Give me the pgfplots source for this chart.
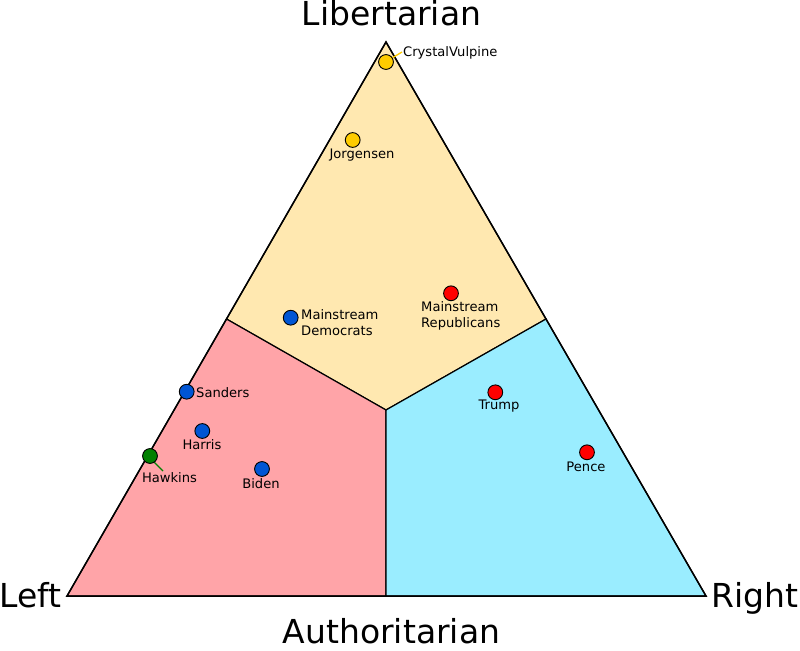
\documentclass[border=0pt]{standalone}
\usepackage{pgfplots}
\pgfplotsset{compat=1.18}
\usepackage{fontspec}
\setmainfont{DejaVu Sans}
\definecolor{libreg}{HTML}{FFE8B0}
\definecolor{leftreg}{HTML}{FFA4A8}
\definecolor{rightreg}{HTML}{9AEDFF}
\definecolor{dotyel}{HTML}{FFCC00}
\definecolor{dotblue}{HTML}{0055D4}
\definecolor{dotred}{HTML}{FF0000}
\definecolor{dotgreen}{HTML}{008000}
\tikzset{lbl/.style={font=\fontsize{13.1bp}{16bp}\selectfont, text=black, inner sep=0pt},
  ttl/.style={font=\fontsize{33bp}{38bp}\selectfont, text=black, inner sep=0pt}}
\begin{document}
\begin{tikzpicture}
\begin{axis}[
  width=800bp, height=651bp, scale only axis,
  xmin=0, xmax=800, ymin=0, ymax=651, y dir=reverse,
  hide axis, clip=false,
]
% regions
\addplot[fill=libreg, draw=black, line width=1.2bp] coordinates {(386,42) (226.5,319) (386,410) (546,319)} -- cycle;
\addplot[fill=leftreg, draw=black, line width=1.2bp] coordinates {(67,596) (226.5,319) (386,410) (386,596)} -- cycle;
\addplot[fill=rightreg, draw=black, line width=1.2bp] coordinates {(706,596) (546,319) (386,410) (386,596)} -- cycle;
\addplot[draw=black, line width=1.5bp] coordinates {(67,596) (386,42) (706,596)} -- cycle;
% leader lines
\addplot[draw=dotyel, line width=1.3bp] coordinates {(392,58) (402,52)};
\addplot[draw=dotgreen, line width=1.3bp] coordinates {(154,462) (163,471)};
% dots
\addplot[only marks, mark=*, mark size=7.4bp, fill=dotyel, draw=black, mark options={line width=0.9bp}] coordinates {(386,62) (352.7,140)};
\addplot[only marks, mark=*, mark size=7.4bp, fill=dotblue, draw=black, mark options={line width=0.9bp}] coordinates {(290.7,317.7) (186.7,391.7) (202.3,431) (262,469)};
\addplot[only marks, mark=*, mark size=7.4bp, fill=dotred, draw=black, mark options={line width=0.9bp}] coordinates {(451,293.3) (495.3,392.3) (587,452.3)};
\addplot[only marks, mark=*, mark size=7.4bp, fill=dotgreen, draw=black, mark options={line width=0.9bp}] coordinates {(150,456)};
% labels
\node[lbl, anchor=west] at (axis cs:403,53) {CrystalVulpine};
\node[lbl] at (axis cs:362,155) {Jorgensen};
\node[lbl, anchor=north west, align=left] at (axis cs:301,309.5) {Mainstream\\Democrats};
\node[lbl, anchor=north west, align=left] at (axis cs:421,301.5) {Mainstream\\Republicans};
\node[lbl, anchor=west] at (axis cs:196,393) {Sanders};
\node[lbl] at (axis cs:202,445) {Harris};
\node[lbl] at (axis cs:169.5,477.5) {Hawkins};
\node[lbl] at (axis cs:261,483.5) {Biden};
\node[lbl] at (axis cs:499,406) {Trump};
\node[lbl] at (axis cs:586,466.5) {Pence};
% titles
\node[ttl, anchor=base] at (axis cs:391.5,26) {Libertarian};
\node[ttl, anchor=base] at (axis cs:391.5,643) {Authoritarian};
\node[ttl, anchor=base west] at (axis cs:-1,607) {Left};
\node[ttl, anchor=base west] at (axis cs:711,607) {Right};
\end{axis}
\pgfresetboundingbox
\path (0,0) rectangle (800bp,651bp);
\end{tikzpicture}
\end{document}
